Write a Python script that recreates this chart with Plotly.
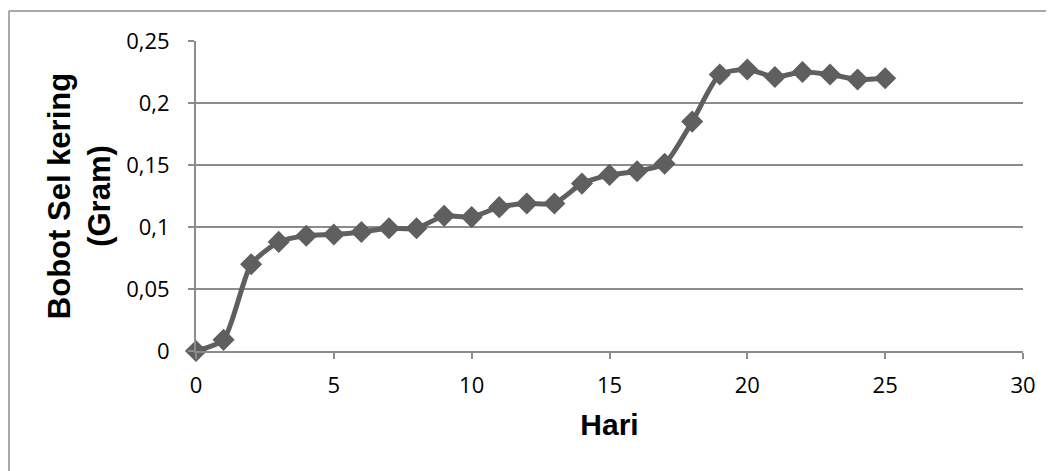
import plotly.graph_objects as go

hari = list(range(0, 26))
bobot = [0.0, 0.009, 0.070, 0.088, 0.093, 0.094, 0.096, 0.099, 0.099, 0.109,
         0.108, 0.116, 0.119, 0.119, 0.135, 0.142, 0.145, 0.151, 0.185, 0.223,
         0.227, 0.221, 0.225, 0.223, 0.219, 0.220]

x_ticks = [0, 5, 10, 15, 20, 25, 30]
y_ticks = [0, 0.05, 0.1, 0.15, 0.2, 0.25]
y_ticklabels = ["0", "0,05", "0,1", "0,15", "0,2", "0,25"]

GRAY = "#8c8c8c"
LINE = "#5f5f5f"

fig = go.Figure()
fig.add_trace(go.Scatter(
    x=hari, y=bobot, mode="lines+markers",
    line=dict(color=LINE, width=5, shape="spline", smoothing=0.6),
    marker=dict(symbol="diamond", size=17, color=LINE),
    cliponaxis=False, showlegend=False,
))

W, H = 1046, 463
L, R, T, B = 188, 31, 33, 120
pw, ph = W - L - R, H - T - B

fig.update_layout(
    width=W, height=H,
    margin=dict(l=L, r=R, t=T, b=B),
    paper_bgcolor="white", plot_bgcolor="white",
    separators=",.",
    font=dict(family="Liberation Sans, Arial, sans-serif", color="black"),
    xaxis=dict(
        range=[0, 30], tickvals=x_ticks, showgrid=False, zeroline=False,
        showline=True, linecolor=GRAY, linewidth=2,
        ticks="outside", ticklen=6, tickcolor=GRAY, tickwidth=2,
        ticklabelstandoff=8,
        tickfont=dict(size=22, family="Open Sans, Liberation Sans, sans-serif"),
        title=dict(text="<b>Hari</b>", font=dict(size=30), standoff=16),
    ),
    yaxis=dict(
        range=[0, 0.25], tickvals=y_ticks, ticktext=y_ticklabels,
        showgrid=True, gridcolor=GRAY, gridwidth=2, zeroline=False,
        showline=True, linecolor=GRAY, linewidth=2,
        ticks="outside", ticklen=6, tickcolor=GRAY, tickwidth=2,
        ticklabelstandoff=14,
        tickfont=dict(size=22, family="Open Sans, Liberation Sans, sans-serif"),
        title=dict(text="<b>Bobot Sel kering<br>(Gram)</b>", font=dict(size=31), standoff=6),
    ),
)

# outer chart-area border (top and left edges visible)
bx = (1 - L) / pw
by = 1 + (T - 3) / ph
fig.add_shape(type="line", xref="paper", yref="paper",
              x0=bx, x1=1.2, y0=by, y1=by, line=dict(color=GRAY, width=1.5))
fig.add_shape(type="line", xref="paper", yref="paper",
              x0=bx, x1=bx, y0=by, y1=-0.5, line=dict(color=GRAY, width=1.5))

fig.write_html("out.html")
